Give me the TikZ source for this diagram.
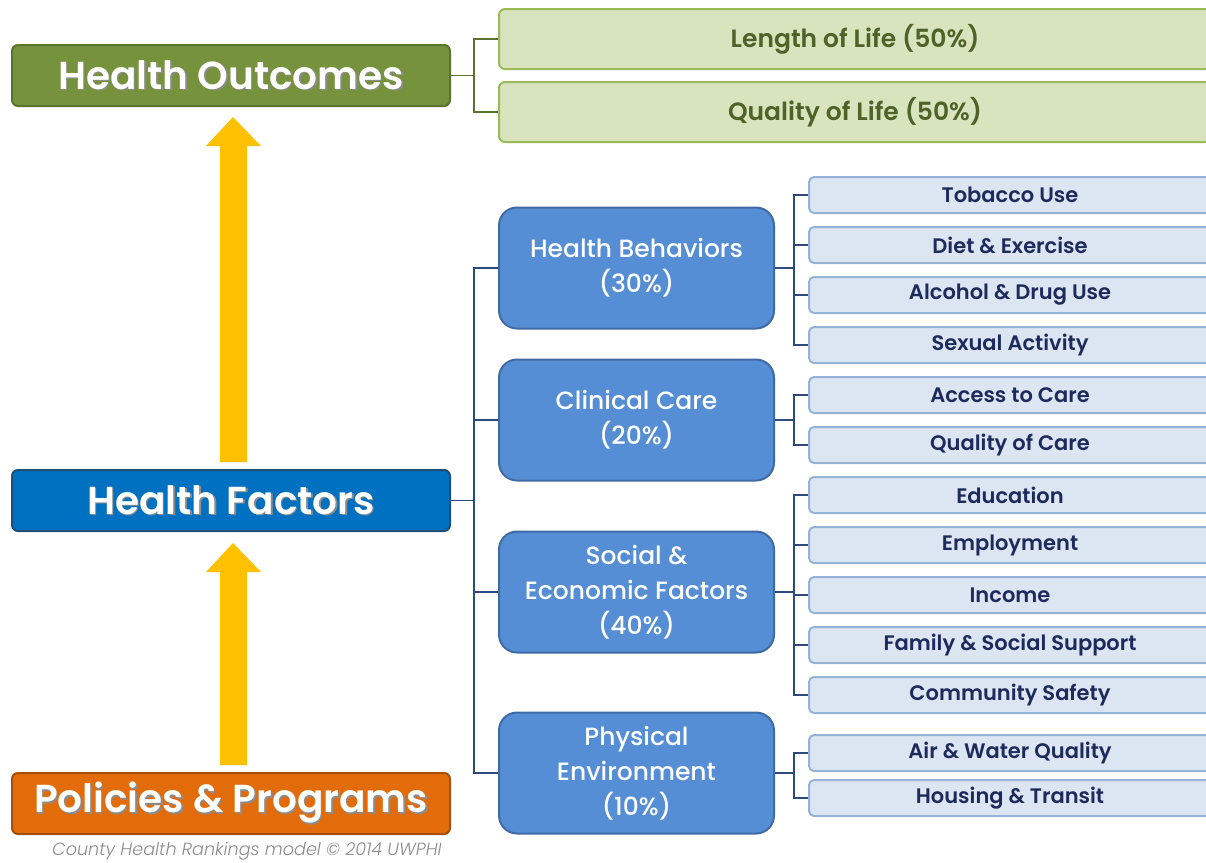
\documentclass[tikz,border=0pt]{standalone}
\usepackage{fontspec}
\setmainfont{Poppins}
\newfontfamily\popmed{Poppins}[UprightFont={* Medium}]
\newfontfamily\popsemi{Poppins}[UprightFont={* SemiBold}]
\newfontfamily\poplight{Poppins}[UprightFont={* Light}, ItalicFont={* Light Italic}]
\definecolor{hogreen}{HTML}{76923C}
\definecolor{hogreenD}{HTML}{5A7330}
\definecolor{lgfill}{HTML}{D7E4BD}
\definecolor{lgdraw}{HTML}{9BBB59}
\definecolor{lgtext}{HTML}{4F6228}
\definecolor{hfblue}{HTML}{0070C0}
\definecolor{hfblueD}{HTML}{1F4E79}
\definecolor{ppor}{HTML}{E36C0A}
\definecolor{pporD}{HTML}{A5500C}
\definecolor{midblue}{HTML}{558ED5}
\definecolor{midblueD}{HTML}{3E6BA8}
\definecolor{lbfill}{HTML}{DCE6F2}
\definecolor{lbdraw}{HTML}{95B3D7}
\definecolor{lbtext}{HTML}{1F2A5C}
\definecolor{arrowy}{HTML}{FFC000}
\definecolor{navyline}{HTML}{2C4A7F}
\definecolor{capgray}{HTML}{8C8C8C}
\newcommand{\shtext}[2]{\makebox[0pt][l]{\hspace*{1.5pt}\raisebox{-1.5pt}{\textcolor{#1}{#2}}}#2}
\tikzset{
  mainbox/.style={rounded corners=6pt, line width=2pt, minimum width=438pt, minimum height=61pt,
    text=white, font=\popsemi\fontsize{39}{42}\selectfont, inner sep=0pt},
  lgbox/.style={rounded corners=6pt, line width=2pt, draw=lgdraw, fill=lgfill, minimum width=712pt,
    minimum height=60pt, anchor=west, text=lgtext, font=\popsemi\fontsize{25}{28}\selectfont, inner sep=0pt},
  catbox/.style={rounded corners=18pt, line width=2pt, draw=midblueD, fill=midblue, minimum width=275pt,
    minimum height=121pt, anchor=west, text=white, align=center,
    font=\popmed\fontsize{25}{35}\selectfont, inner sep=0pt},
  subbox/.style={rounded corners=5pt, line width=2pt, draw=lbdraw, fill=lbfill, minimum width=402pt,
    minimum height=36pt, anchor=west, text=lbtext, font=\popsemi\fontsize{21}{24}\selectfont, inner sep=0pt},
  conn/.style={draw=navyline, line width=1.5pt},
  gconn/.style={draw=hogreenD, line width=1.5pt},
  uparrow/.style={fill=arrowy, draw=none},
}
\begin{document}
\begin{tikzpicture}[x=1pt,y=-1pt]
\useasboundingbox (0,0) rectangle (1206,862);
% main boxes
\node[mainbox, draw=hogreenD, fill=hogreen] (ho) at (231,75.5) {\shtext{black!45}{Health Outcomes}};
\node[mainbox, draw=hfblueD, fill=hfblue] (hf) at (231,500.5) {\shtext{black!45}{Health Factors}};
\node[mainbox, draw=pporD, fill=ppor] (pp) at (231,803.5) {\shtext{black!45}{Policies \& Programs}};
\node[text=capgray, font=\poplight\fontsize{17.6}{19}\selectfont\itshape] (cap) at (247,851) {County Health Rankings model © 2014 UWPHI};
% arrows
\fill[uparrow] (220,462) -- (220,146) -- (206,146) -- (233,117) -- (261,146) -- (247,146) -- (247,462) -- cycle;
\fill[uparrow] (220,765) -- (220,572) -- (206,572) -- (233,543) -- (261,572) -- (247,572) -- (247,765) -- cycle;
% outcomes
\node[lgbox] (len) at (498,39) {Length of Life (50\%)};
\node[lgbox] (qol) at (498,112) {Quality of Life (50\%)};
\draw[gconn] (ho.east) -- ([xshift=23pt]ho.east) coordinate (hoj);
\draw[gconn] (len.west) -| (hoj) |- (qol.west);
% categories
\node[catbox] (hb) at (498,268) {Health Behaviors\\(30\%)};
\node[catbox] (cc) at (498,420) {Clinical Care\\(20\%)};
\node[catbox] (se) at (498,592) {Social \&\\Economic Factors\\(40\%)};
\node[catbox] (pe) at (498,773) {Physical\\Environment\\(10\%)};
\draw[conn] (hf.east) -- ([xshift=23pt]hf.east) coordinate (hfj);
\draw[conn] (hb.west) -| (hfj) |- (pe.west);
\draw[conn] (cc.west) -- (cc.west -| hfj);
\draw[conn] (se.west) -- (se.west -| hfj);
% sub-factors
\node[subbox] (s1) at (808,195) {Tobacco Use};
\node[subbox] (s2) at (808,245) {Diet \& Exercise};
\node[subbox] (s3) at (808,295) {Alcohol \& Drug Use};
\node[subbox] (s4) at (808,345) {Sexual Activity};
\node[subbox] (s5) at (808,395) {Access to Care};
\node[subbox] (s6) at (808,445) {Quality of Care};
\node[subbox] (s7) at (808,495) {Education};
\node[subbox] (s8) at (808,545) {Employment};
\node[subbox] (s9) at (808,595) {Income};
\node[subbox] (s10) at (808,645) {Family \& Social Support};
\node[subbox] (s11) at (808,695) {Community Safety};
\node[subbox] (s12) at (808,753) {Air \& Water Quality};
\node[subbox] (s13) at (808,798) {Housing \& Transit};
% sub connectors
\draw[conn] (hb.east) -- ([xshift=19pt]hb.east) coordinate (hbj);
\draw[conn] (s1.west) -| (hbj) |- (s4.west);
\draw[conn] (s2.west) -- (s2.west -| hbj);
\draw[conn] (s3.west) -- (s3.west -| hbj);
\draw[conn] (cc.east) -- ([xshift=19pt]cc.east) coordinate (ccj);
\draw[conn] (s5.west) -| (ccj) |- (s6.west);
\draw[conn] (se.east) -- ([xshift=19pt]se.east) coordinate (sej);
\draw[conn] (s7.west) -| (sej) |- (s11.west);
\draw[conn] (s8.west) -- (s8.west -| sej);
\draw[conn] (s9.west) -- (s9.west -| sej);
\draw[conn] (s10.west) -- (s10.west -| sej);
\draw[conn] (pe.east) -- ([xshift=19pt]pe.east) coordinate (pej);
\draw[conn] (s12.west) -| (pej) |- (s13.west);
\end{tikzpicture}
\end{document}
